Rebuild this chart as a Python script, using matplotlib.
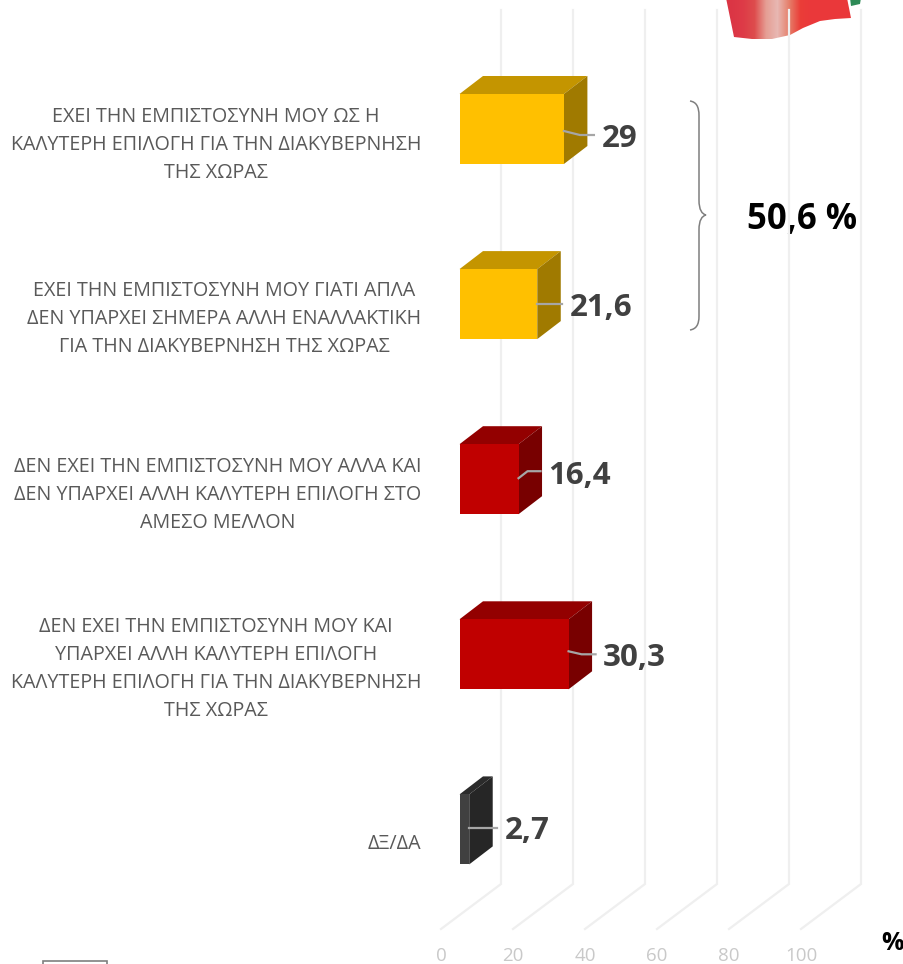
import numpy as np
import matplotlib
matplotlib.use("Agg")
import matplotlib.pyplot as plt
from matplotlib.path import Path
from matplotlib.patches import PathPatch, Polygon, Rectangle

plt.rcParams["font.family"] = ["Open Sans", "DejaVu Sans"]

# Data
labels = [
    "ΕΧΕΙ ΤΗΝ ΕΜΠΙΣΤΟΣΥΝΗ ΜΟΥ ΩΣ Η\nΚΑΛΥΤΕΡΗ ΕΠΙΛΟΓΗ ΓΙΑ ΤΗΝ ΔΙΑΚΥΒΕΡΝΗΣΗ\nΤΗΣ ΧΩΡΑΣ",
    "ΕΧΕΙ ΤΗΝ ΕΜΠΙΣΤΟΣΥΝΗ ΜΟΥ ΓΙΑΤΙ ΑΠΛΑ\nΔΕΝ ΥΠΑΡΧΕΙ ΣΗΜΕΡΑ ΑΛΛΗ ΕΝΑΛΛΑΚΤΙΚΗ\nΓΙΑ ΤΗΝ ΔΙΑΚΥΒΕΡΝΗΣΗ ΤΗΣ ΧΩΡΑΣ",
    "ΔΕΝ ΕΧΕΙ ΤΗΝ ΕΜΠΙΣΤΟΣΥΝΗ ΜΟΥ ΑΛΛΑ ΚΑΙ\nΔΕΝ ΥΠΑΡΧΕΙ ΑΛΛΗ ΚΑΛΥΤΕΡΗ ΕΠΙΛΟΓΗ ΣΤΟ\nΑΜΕΣΟ ΜΕΛΛΟΝ",
    "ΔΕΝ ΕΧΕΙ ΤΗΝ ΕΜΠΙΣΤΟΣΥΝΗ ΜΟΥ ΚΑΙ\nΥΠΑΡΧΕΙ ΑΛΛΗ ΚΑΛΥΤΕΡΗ ΕΠΙΛΟΓΗ\nΚΑΛΥΤΕΡΗ ΕΠΙΛΟΓΗ ΓΙΑ ΤΗΝ ΔΙΑΚΥΒΕΡΝΗΣΗ\nΤΗΣ ΧΩΡΑΣ",
    "ΔΞ/ΔΑ",
]
values = [29, 21.6, 16.4, 30.3, 2.7]
value_labels = ["29", "21,6", "16,4", "30,3", "2,7"]
ticks = [0, 20, 40, 60, 80, 100]

# front, top and side colours of each bar
front_colors = ["#FFC000", "#FFC000", "#C00000", "#C00000", "#404040"]
top_colors = ["#C49500", "#C49500", "#930000", "#930000", "#2B2B2B"]
side_colors = ["#A07A00", "#A07A00", "#780000", "#780000", "#262626"]

W, H = 904, 964
PX_X = 3.6      # pixels per percent
PX_Y = 175.1    # pixels per row
X0, Y0 = 459.5, 129.0   # pixel of value 0 on the bar front, first row


def px_x(p):
    return (p - X0) / PX_X


def px_y(p):
    return (p - Y0) / PX_Y


fig = plt.figure(figsize=(W / 100, H / 100), dpi=100)

# Back layer in pixels: flag, brace, box, free text
back = fig.add_axes([0, 0, 1, 1], zorder=0)
back.set_xlim(0, W)
back.set_ylim(H, 0)
back.axis("off")

# Flag corner at the top
flag = Polygon([(726, -2), (734, 37), (752, 39), (772, 39), (790, 35), (803, 28),
                (820, 21), (835, 19), (851, 18), (847, -2)], closed=True,
               fc="none", ec="none")
back.add_patch(flag)
grad = np.array([[0.86, 0.21, 0.27], [0.87, 0.23, 0.28], [0.87, 0.30, 0.30],
                 [0.90, 0.62, 0.58], [0.91, 0.72, 0.70], [0.90, 0.50, 0.42],
                 [0.92, 0.24, 0.22], [0.92, 0.22, 0.23], [0.92, 0.22, 0.23],
                 [0.92, 0.22, 0.23], [0.92, 0.22, 0.23]])
im = back.imshow(grad[np.newaxis, :, :], extent=(726, 852, 40, -2), aspect="auto",
                 interpolation="bilinear", zorder=1)
im.set_clip_path(flag)
back.add_patch(Polygon([(850, -2), (851, 6), (860, 4), (861, -2)], fc="#2E8B57", ec="none"))
back.set_xlim(0, W)
back.set_ylim(H, 0)

# Curly brace next to the two yellow bars
C4 = Path.CURVE4
brace = Path(
    [(690, 101), (696, 102), (699, 106), (699, 116),
     (699, 150), (699, 180), (699, 200),
     (699, 210), (702, 214), (706, 215),
     (702, 216), (699, 220), (699, 230),
     (699, 260), (699, 290), (699, 316),
     (699, 325), (696, 329), (690, 330)],
    [Path.MOVETO, C4, C4, C4, C4, C4, C4, C4, C4, C4, C4, C4, C4, C4, C4, C4, C4, C4, C4])
back.add_patch(PathPatch(brace, fc="none", ec="#7F7F7F", lw=1.1))

back.text(802, 220, "50,6 %", fontsize=25, fontweight="bold", color="black",
          ha="center", va="center")
back.text(893, 944, "%", fontsize=18, fontweight="bold", color="black",
          ha="center", va="center")
back.add_patch(Rectangle((43.5, 961), 63.5, 10, fc="white", ec="#7F7F7F", lw=1.2,
                         clip_on=True))

# Main chart on data scales
ax = fig.add_axes([0, 0, 1, 1], zorder=1)
ax.patch.set_alpha(0)
ax.set_xlim(px_x(0), px_x(W))
ax.set_ylim(px_y(H), px_y(0))
ax.axis("off")

DX = 23.5 / PX_X    # depth of the 3D bars
DY = 18.0 / PX_Y
BAR_H = 70.0 / PX_Y
FLOOR_DX = 18.5 / PX_X
FLOOR_BACK = 41.5 / PX_X

grid_col = "#EFEFEF"
for t in ticks:
    xs = [t - FLOOR_DX, t + FLOOR_BACK, t + FLOOR_BACK]
    ys = [px_y(929), px_y(884), px_y(10)]
    ax.plot(xs, ys, color=grid_col, lw=1.6, zorder=1, solid_joinstyle="miter")
    ax.text(t - FLOOR_DX, px_y(956), str(t), color="#C9C9C9", fontsize=13.5,
            ha="center", va="center")

ypos = np.arange(len(values))
ax.barh(ypos, values, height=BAR_H, color=front_colors, zorder=4)
for y, v, ct, cs in zip(ypos, values, top_colors, side_colors):
    top = y - BAR_H / 2
    bot = y + BAR_H / 2
    ax.fill([0, DX, v + DX, v], [top, top - DY, top - DY, top], color=ct, lw=0, zorder=3)
    ax.fill([v, v + DX, v + DX, v], [top, top - DY, bot - DY, bot], color=cs, lw=0, zorder=3)

# Left labels, right aligned block with centred lines
label_shift = [16, 15, 16, 14.5, 15]
for y, txt, s in zip(ypos, labels, label_shift):
    ax.text(px_x(421), y + s / PX_Y, txt, fontsize=14.2, color="#595959", ha="right",
            va="center", multialignment="center", linespacing=1.54)

# Value labels with leader lines (offsets from the bar end, in pixels)
leaders = [
    [(0, 2), (16, 6), (30, 6)],
    [(0, -0.5), (25, -0.5)],
    [(0, -1), (9, -8), (22, -8)],
    [(0, -3), (13, 0), (27, 0)],
    [(0, -1), (28, -1)],
]
label_dx = [38, 33, 30, 34, 36]
label_dy = [10, 3.5, -3, 4, 2]
for y, v, vl, lead, ldx, ldy in zip(ypos, values, value_labels, leaders, label_dx, label_dy):
    ax.plot([v + a / PX_X for a, b in lead], [y + b / PX_Y for a, b in lead],
            color="#A6A6A6", lw=1.6, zorder=5)
    ax.text(v + ldx / PX_X, y + ldy / PX_Y, vl, fontsize=22.5, fontweight="bold",
            color="#404040", ha="left", va="center", zorder=6)

fig.savefig("out.png", dpi=100)
